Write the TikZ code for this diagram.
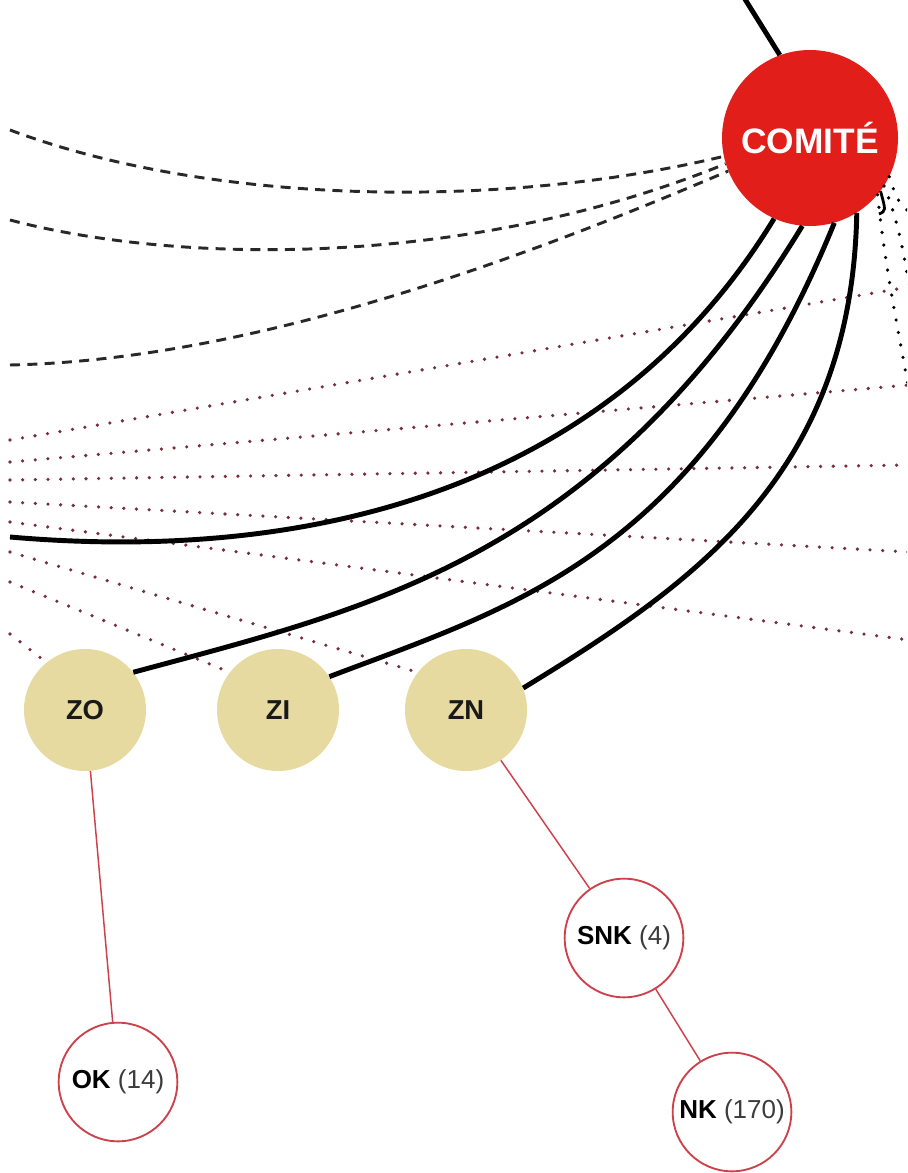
\documentclass[tikz,border=0pt]{standalone}
\usepackage{fontspec}
\setmainfont{Liberation Sans}
\definecolor{comred}{RGB}{226,30,26}
\definecolor{zonebeige}{RGB}{231,218,160}
\definecolor{linkred}{RGB}{205,65,75}
\definecolor{dotred}{RGB}{120,45,60}
\definecolor{dashgray}{RGB}{40,40,40}
\definecolor{numgray}{RGB}{60,60,60}
\begin{document}
\begin{tikzpicture}[x=0.75pt,y=-0.75pt,
  comitenode/.style={circle,fill=comred,minimum size=132pt,inner sep=0pt,text=white,
    font=\bfseries\fontsize{26.5}{30}\selectfont},
  zonenode/.style={circle,fill=zonebeige,minimum size=91.5pt,inner sep=0pt,text=black!90,
    font=\bfseries\fontsize{20.5}{22}\selectfont},
  subnode/.style={circle,draw=linkred,line width=1.4pt,fill=white,minimum size=89pt,inner sep=0pt,
    font=\fontsize{19.5}{22}\selectfont},
  solidlink/.style={line width=3.7pt,black},
  dashlink/.style={line width=2.2pt,dashgray,dash pattern=on 7.5pt off 5.5pt},
  reddots/.style={line width=2.7pt,dotred,line cap=round,dash pattern=on 0pt off 9.5pt},
  blackdots/.style={line width=2.7pt,black,line cap=round,dash pattern=on 0pt off 9.5pt},
  redlink/.style={line width=1.1pt,linkred}]
\useasboundingbox (0,0) rectangle (907,1173);
\clip (0,0) rectangle (907,1173);

% nodes
\node[comitenode] (comite) at (810,138) {COMITÉ};
\node[zonenode] (zo) at (85,710) {ZO};
\node[zonenode] (zi) at (278,710) {ZI};
\node[zonenode] (zn) at (466,710) {ZN};
\node[subnode] (snk) at (624,938) {\textbf{SNK} \textcolor{numgray}{(4)}};
\node[subnode] (nk) at (732,1112) {\textbf{NK} \textcolor{numgray}{(170)}};
\node[subnode] (ok) at (118,1082) {\textbf{OK} \textcolor{numgray}{(14)}};

% free ends
\coordinate (topout) at (743,-4);
\coordinate (d1) at (10,130);
\coordinate (d2) at (10,220);
\coordinate (d3) at (10,365);
\coordinate (la) at (10,440);  \coordinate (ra) at (909,287);
\coordinate (lb) at (10,462);  \coordinate (rb) at (909,385);
\coordinate (lc) at (10,480);  \coordinate (rc) at (909,465);
\coordinate (ld) at (10,502);  \coordinate (rd) at (909,552);
\coordinate (le) at (10,522);  \coordinate (re) at (909,640);
\coordinate (lf) at (10,552);
\coordinate (lg) at (10,582);
\coordinate (lh) at (10,634);
\coordinate (lone) at (10,537);
\coordinate (bx) at (909,390);
\coordinate (by) at (909,285);
\coordinate (bz) at (909,212);
\coordinate (jend) at (879,214);

% red dotted lines
\draw[reddots] (la) -- (ra);
\draw[reddots] (lb) -- (rb);
\draw[reddots] (lc) -- (rc);
\draw[reddots] (ld) -- (rd);
\draw[reddots] (le) -- (re);
\draw[reddots] (lf) -- (zn.142);
\draw[reddots] (lg) -- (zi.142);
\draw[reddots] (lh) -- (zo.129);

% dashed lines to the left
\draw[dashlink] (d1) .. controls (210,205) and (500,210) .. (comite.192);
\draw[dashlink] (d2) .. controls (180,265) and (470,268) .. (comite.197);
\draw[dashlink] (d3) .. controls (250,360) and (520,260) .. (comite.202);

% black dotted lines to the right
\draw[blackdots] (comite.-40) .. controls (884,260) and (898,330) .. (bx);
\draw[blackdots] (comite.-33) .. controls (898,220) and (903,250) .. (by);
\draw[blackdots] (comite.-26) .. controls (897,200) .. (bz);
\draw[line width=2.1pt,black] (comite.-37) .. controls (886,211) .. (jend);

% solid black links
\draw[solidlink] (comite.110) -- (topout);
\draw[solidlink] (comite.-114) .. controls +(-166,272) and +(299,26) .. (lone);
\draw[solidlink] (comite.-95) .. controls +(-203,332) and +(241,-65) .. (zo.38);
\draw[solidlink] (comite.-74) .. controls +(-136,333) and +(187,-71) .. (zi.33);
\draw[solidlink] (comite.-58) .. controls +(-5,263) and +(170,-104) .. (zn.21);

% red thin links
\draw[redlink] (zo) -- (ok);
\draw[redlink] (zn) -- (snk);
\draw[redlink] (snk) -- (nk);
\end{tikzpicture}
\end{document}
